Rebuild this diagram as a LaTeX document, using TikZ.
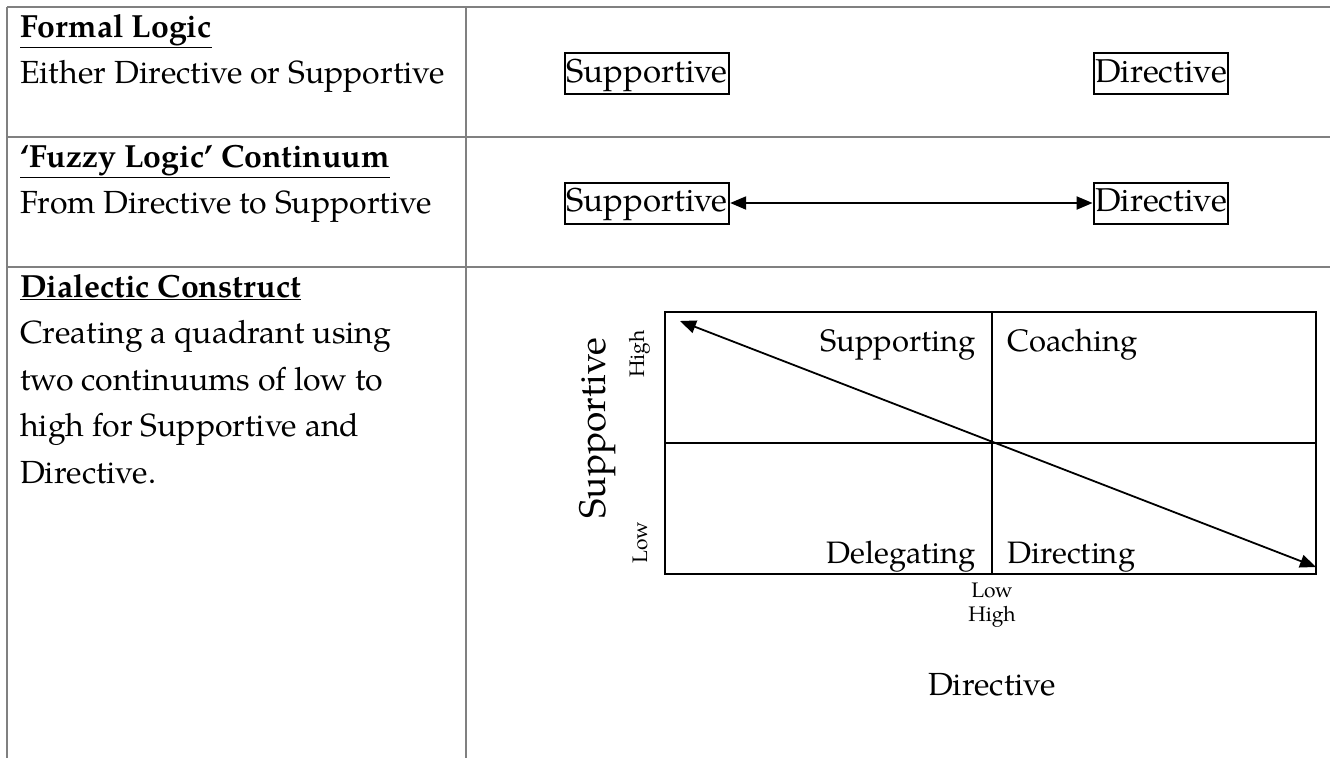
\documentclass[tikz,border=0pt]{standalone}
\usepackage{fontspec}
\setmainfont{texgyrepagella}[Extension=.otf,UprightFont=*-regular,BoldFont=*-bold,ItalicFont=*-italic,BoldItalicFont=*-bolditalic]
\usepackage{tikz}
\usetikzlibrary{arrows.meta,positioning}
\definecolor{ink}{HTML}{000000}
\definecolor{rule}{HTML}{808080}

\tikzset{
  txt/.style={anchor=base west,inner sep=0pt,font=\fontsize{32}{38}\selectfont},
  head/.style={txt,font=\fontsize{32}{38}\selectfont\bfseries},
  tag/.style={draw=ink,line width=2pt,inner xsep=1.5pt,inner ysep=2pt,text height=27pt,text depth=10pt,font=\fontsize{33}{38}\selectfont},
  quad/.style={inner sep=0pt,font=\fontsize{31}{36}\selectfont},
  tick/.style={inner sep=0pt,font=\fontsize{21}{24}\selectfont},
}

\begin{document}
\begin{tikzpicture}[x=1pt,y=-1pt,>={Triangle[length=16pt,width=13pt]}]
\useasboundingbox (0,0) rectangle (1330,758);
% table rules
\draw[rule,line width=2pt] (7,7)--(1330,7) (7,137)--(1330,137) (7,267)--(1330,267);
\draw[rule,line width=2pt] (7,7)--(7,758) (466,7)--(466,758);
% left column
\node[head] (h1) at (20,37) {\underline{Formal Logic}};
\node[txt] (t1) at (20,83.5) {Either Directive or Supportive};
\node[head] (h2) at (20,167) {\underline{`Fuzzy Logic' Continuum}};
\node[txt] (t2) at (20,213) {From Directive to Supportive};
\node[head] (h3) at (20,297) {\underline{Dialectic Construct}};
\foreach \t [count=\i] in {Creating a quadrant using,two continuums of low to,high for Supportive and,Directive.}
  \node[txt] (l\i) at (20,297+46.5*\i) {\t};
% row 1
\node[tag] (sup1) at (647,73.5) {Supportive};
\node[tag] (dir1) at (1161,73.5) {Directive};
% row 2
\node[tag] (sup2) at (647,203) {Supportive};
\node[tag] (dir2) at (1161,203) {Directive};
\draw[line width=2pt,<->] (sup2) -- (dir2);
% quadrant
\coordinate (q0) at (665,312);
\coordinate (q1) at (1316,574);
\coordinate (qc) at (992,443);
\draw[ink,line width=2.2pt] (q0) rectangle (q1);
\draw[ink,line width=2.2pt] (665,443)--(1316,443) (992,312)--(992,574);
\coordinate (a0) at (680,321);
\coordinate (a1) at (1316,567);
\draw[line width=1.8pt,<->] (a0) -- (a1);
\node[quad,anchor=base east] (sting) at (976,351) {Supporting};
\node[quad,anchor=base west] (coach) at (1007,351) {Coaching};
\node[quad,anchor=base east] (deleg) at (976,563) {Delegating};
\node[quad,anchor=base west] (direc) at (1007,563) {Directing};
% axis labels
\node[quad,rotate=90,font=\fontsize{37}{40}\selectfont] (ysup) at (598,428) {Supportive};
\node[tick,rotate=90] (yhi) at (640,354) {High};
\node[tick,rotate=90] (ylo) at (640,543) {Low};
\node[tick] (xlo) at (992,590) {Low};
\node[tick] (xhi) at (992,617) {High};
\node[quad,font=\fontsize{32}{36}\selectfont] (xdir) at (992,685) {Directive};
\end{tikzpicture}
\end{document}
